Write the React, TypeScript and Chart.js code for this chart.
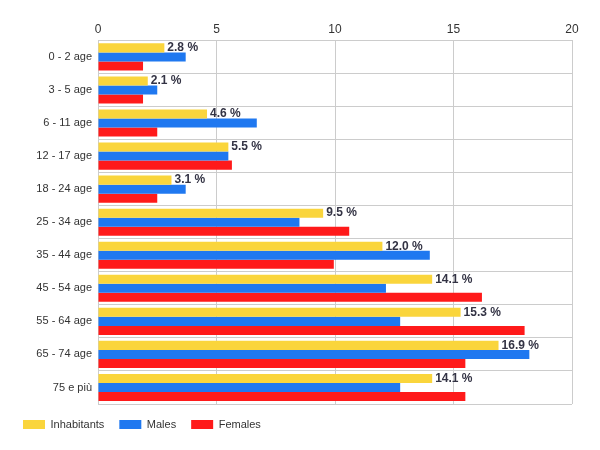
import React, { useEffect, useRef } from "react";
import { Chart, registerables } from "chart.js";
Chart.register(...registerables);

const categories = ["0 - 2 age","3 - 5 age","6 - 11 age","12 - 17 age","18 - 24 age","25 - 34 age","35 - 44 age","45 - 54 age","55 - 64 age","65 - 74 age","75 e più"];
const inhabitants = [2.8,2.1,4.6,5.5,3.1,9.5,12.0,14.1,15.3,16.9,14.1];
const males = [3.7,2.5,6.7,5.5,3.7,8.5,14.0,12.15,12.75,18.2,12.75];
const females = [1.9,1.9,2.5,5.65,2.5,10.6,9.95,16.2,18.0,15.5,15.5];
const xTicks = [0,5,10,15,20];

const labelPlugin = {
  id: "barLabels",
  afterDatasetsDraw(chart: any) {
    const meta = chart.getDatasetMeta(0);
    const ctx = chart.ctx;
    ctx.save();
    ctx.font = "bold 12px Arial, 'Liberation Sans', sans-serif";
    ctx.fillStyle = "#333344";
    ctx.textBaseline = "middle";
    meta.data.forEach((el: any, i: number) => {
      ctx.fillText(inhabitants[i].toFixed(1) + " %", el.x + 3, el.y);
    });
    ctx.restore();
  },
};

export default function App() {
  const ref = useRef<HTMLCanvasElement>(null);
  useEffect(() => {
    document.body.style.margin = "0";
    const c = new Chart(ref.current!, {
      type: "bar",
      data: {
        labels: categories,
        datasets: [
          { label: "Inhabitants", data: inhabitants, backgroundColor: "#FAD53C" },
          { label: "Males", data: males, backgroundColor: "#1F78F0" },
          { label: "Females", data: females, backgroundColor: "#FF1A1A" },
        ],
      },
      plugins: [labelPlugin],
      options: {
        indexAxis: "y",
        animation: false,
        responsive: false,
        layout: { padding: { right: 28, top: 18, left: 8, bottom: 10 } },
        datasets: { bar: { categoryPercentage: 0.82, barPercentage: 1 } },
        scales: {
          x: {
            position: "top", min: 0, max: 20,
            afterBuildTicks: (ax: any) => { ax.ticks = xTicks.map((v) => ({ value: v })); },
            grid: { color: "#cccccc" , drawTicks: false},
            border: { display: false },
            ticks: { color: "#333", font: { family: "Arial, 'Liberation Sans'", size: 12 }, padding: 4 },
          },
          y: {
            afterFit: (ax: any) => { ax.width = 90; },
            grid: { color: "#cccccc", drawTicks: false, offset: true },
            border: { display: false },
            ticks: { color: "#333", font: { family: "Arial, 'Liberation Sans'", size: 11 }, padding: 6 },
          },
        },
        plugins: {
          legend: {
            position: "bottom", align: "start",
            labels: { boxWidth: 22, boxHeight: 9, padding: 15, color: "#333", font: { family: "Arial, 'Liberation Sans'", size: 11 } },
          },
          tooltip: { enabled: false },
        },
      },
    });
    return () => c.destroy();
  }, []);
  return <canvas ref={ref} width={600} height={450} />;
}
